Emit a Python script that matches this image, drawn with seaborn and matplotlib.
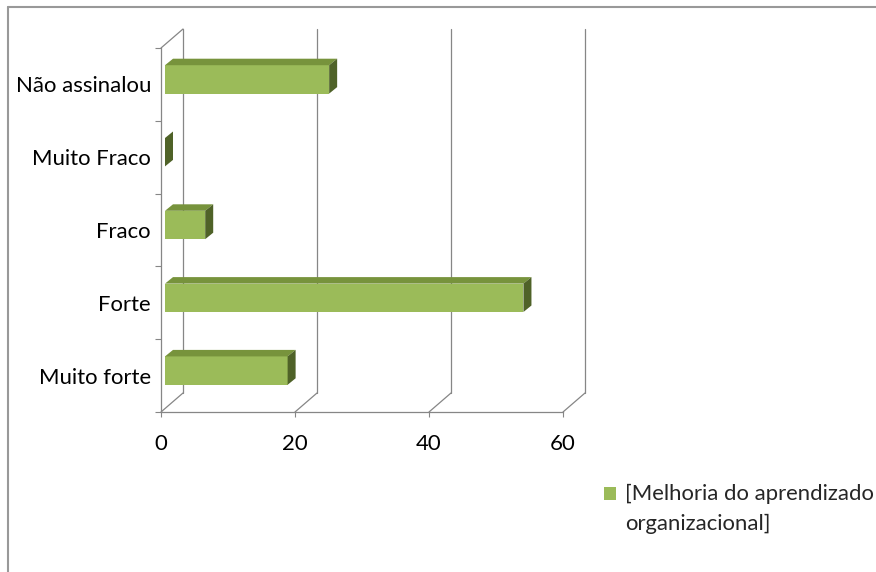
import matplotlib
matplotlib.use("Agg")
import matplotlib.pyplot as plt
import seaborn as sns
import pandas as pd
from matplotlib.patches import Polygon, Patch
from matplotlib.lines import Line2D
from matplotlib.transforms import IdentityTransform, offset_copy

# ---- data ----
categories = ["Não assinalou", "Muito Fraco", "Fraco", "Forte", "Muito forte"]
values = [24.5, 0, 6, 53.5, 18.3]
series_name = "[Melhoria do aprendizado\norganizacional]"
x_ticks = [0, 20, 40, 60]

# ---- style ----
FRONT = "#9BBB59"
TOP = "#77933C"
SIDE = "#4F6228"
AXC = "#868686"
FS = 15.9

sns.set_theme(style="white")
plt.rcParams["font.family"] = ["Lato", "DejaVu Sans"]

W, H = 876, 572
fig = plt.figure(figsize=(W / 100, H / 100), dpi=100)
fig.patch.set_facecolor("white")
ax = fig.add_axes([161 / W, 1 - 412 / H, (563 - 161) / W, (412 - 48) / H])
ax.set_facecolor("none")

df = pd.DataFrame({"cat": categories, "val": values})
sns.barplot(data=df, x="val", y="cat", order=categories, color=FRONT,
            saturation=1, width=0.39, ax=ax, linewidth=0, zorder=3)

ax.set_xlim(0, 60)
ax.set_ylim(4.5, -0.5)
ax.set_xlabel("")
ax.set_ylabel("")
ax.set_xticks(x_ticks)
ax.set_xticklabels([str(t) for t in x_ticks], fontsize=FS, color="black")
ax.set_yticks(range(len(categories)))
ax.set_yticklabels(categories, fontsize=FS, color="black")
ax.set_yticks([i - 0.5 for i in range(len(categories) + 1)], minor=True)
ax.tick_params(axis="y", which="major", length=0, pad=7.2)
ax.tick_params(axis="y", which="minor", length=4.3, width=0.8, color=AXC, direction="out", left=True)
ax.tick_params(axis="x", which="major", length=3.6, width=0.8, color=AXC, direction="out", bottom=True, pad=12)
for s in ["top", "right"]:
    ax.spines[s].set_visible(False)
for s in ["left", "bottom"]:
    ax.spines[s].set_color(AXC)
    ax.spines[s].set_linewidth(0.9)
ax.grid(False)

# ---- 3D walls ----
DX, DY = 22, 19
back = offset_copy(ax.transData, fig=fig, x=DX, y=DY, units="dots")
for v in x_ticks:
    ax.add_line(Line2D([v, v], [4.5, -0.5], transform=back, color=AXC,
                       lw=0.9, zorder=1, clip_on=False))

fig.canvas.draw()
T = ax.transData.transform
# floor diagonals
for v in x_ticks:
    px, py = T((v, 4.5))
    ax.add_line(Line2D([px, px + DX], [py, py + DY], transform=IdentityTransform(),
                       color=AXC, lw=0.9, zorder=1, clip_on=False))
# left wall top diagonal
px, py = T((0, -0.5))
ax.add_line(Line2D([px, px + DX], [py, py + DY], transform=IdentityTransform(),
                   color=AXC, lw=0.9, zorder=1, clip_on=False))

# ---- 3D bars ----
FX, FY = 4, 5   # front face offset
BX, BY = 8, 6.5  # bar depth
front_tr = offset_copy(ax.transData, fig=fig, x=FX, y=FY, units="dots")
for p in list(ax.patches):
    x0, y0 = p.get_x(), p.get_y()
    w, h = p.get_width(), p.get_height()
    p.set_transform(front_tr)
    p.set_zorder(3)
    (l, b1) = T((x0, y0))
    (r, b2) = T((x0 + w, y0 + h))
    l += FX; r += FX
    lo = min(b1, b2) + FY
    hi = max(b1, b2) + FY
    top = Polygon([(l, hi), (r, hi), (r + BX, hi + BY), (l + BX, hi + BY)],
                  closed=True, transform=IdentityTransform(), facecolor=TOP,
                  edgecolor="none", zorder=3, clip_on=False)
    side = Polygon([(r, lo), (r, hi), (r + BX, hi + BY), (r + BX, lo + BY)],
                   closed=True, transform=IdentityTransform(), facecolor=SIDE,
                   edgecolor="none", zorder=3.1, clip_on=False)
    ax.add_patch(top)
    ax.add_patch(side)

# ---- legend ----
leg = ax.legend(handles=[Patch(facecolor=FRONT, edgecolor="none", label=series_name)],
                loc="upper left", bbox_to_anchor=(604 / W, 1 - 484 / H),
                bbox_transform=fig.transFigure, frameon=False, fontsize=FS,
                handlelength=0.55, handleheight=0.55, handletextpad=0.4,
                borderpad=0, borderaxespad=0)
for t in leg.get_texts():
    t.set_linespacing(1.6)
# align the legend square with the first text line
h = leg.legend_handles[0]
h.set_y(h.get_y() + 11.5)

# ---- chart area border ----
fig.add_artist(Line2D([8 / W, 1], [1 - 6.5 / H, 1 - 6.5 / H], transform=fig.transFigure,
                      color="#999999", lw=1.5))
fig.add_artist(Line2D([8 / W, 8 / W], [0, 1 - 6.5 / H], transform=fig.transFigure,
                      color="#999999", lw=1.5))

fig.savefig("out.png", dpi=100, facecolor="white")
